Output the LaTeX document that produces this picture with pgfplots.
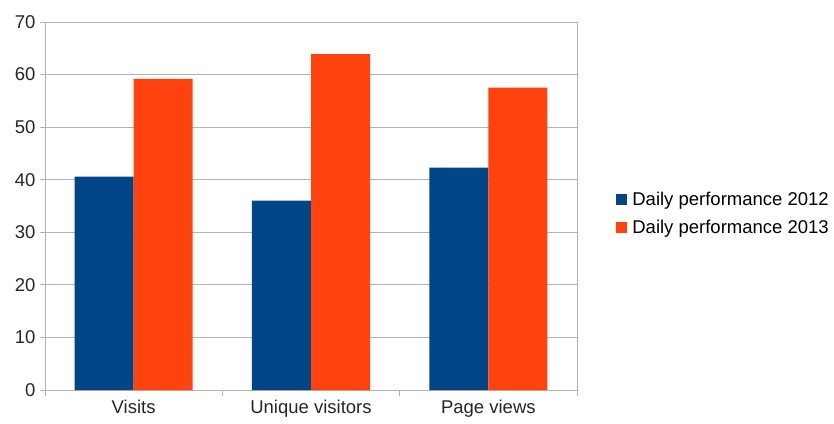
\documentclass[border=0pt]{standalone}
\usepackage{pgfplots}
\pgfplotsset{compat=1.18}
\usepackage{fontspec}
\setmainfont{Liberation Sans}
\definecolor{lblue}{HTML}{004586}
\definecolor{lorange}{HTML}{FF420E}
\definecolor{gridc}{HTML}{B3B3B3}
\begin{document}
\begin{tikzpicture}[x=1pt,y=1pt]
\begin{axis}[
  at={(0,0)}, anchor=south west,
  scale only axis, width=532pt, height=368pt,
  xmin=-0.5, xmax=2.5, ymin=0, ymax=70,
  ytick={0,10,...,70},
  xtick={0,1,2},
  xticklabels={Visits,Unique visitors,Page views},
  minor xtick={-0.5,0.5,1.5,2.5},
  tick pos=left,
  ymajorgrids, major grid style={gridc, line width=0.8pt},
  axis line style={gridc, line width=0.8pt},
  tick style={gridc, line width=0.8pt},
  tick align=outside,
  major tick length=5pt, minor tick length=6pt,
  x tick style={/pgfplots/major tick length=0pt},
  ticklabel style={font=\fontsize{18.5}{21}\selectfont, text=black!85},
  xticklabel style={yshift=-2pt},
  yticklabel style={xshift=-1pt},
  /pgf/number format/assume math mode=true,
  ybar=0pt, bar width=0.333,
  legend style={at={(1.068,0.48)}, anchor=west, draw=none, fill=none,
    font=\fontsize{18.5}{21}\selectfont, row sep=9pt,
    /tikz/every even column/.append style={column sep=2pt},
    /tikz/every odd column/.append style={column sep=3pt}},
  legend image code/.code={\fill[#1] (0pt,-5.5pt) rectangle (11pt,5.5pt);},
  legend cell align=left,
]
\addplot[fill=lblue, draw=none] coordinates {(0,40.6) (1,36.0) (2,42.3)};
\addplot[fill=lorange, draw=none] coordinates {(0,59.2) (1,63.9) (2,57.5)};
\legend{Daily performance 2012, Daily performance 2013}
\end{axis}
\pgfresetboundingbox
\useasboundingbox (-45pt,-33pt) rectangle (789pt,390pt);
\end{tikzpicture}
\end{document}
